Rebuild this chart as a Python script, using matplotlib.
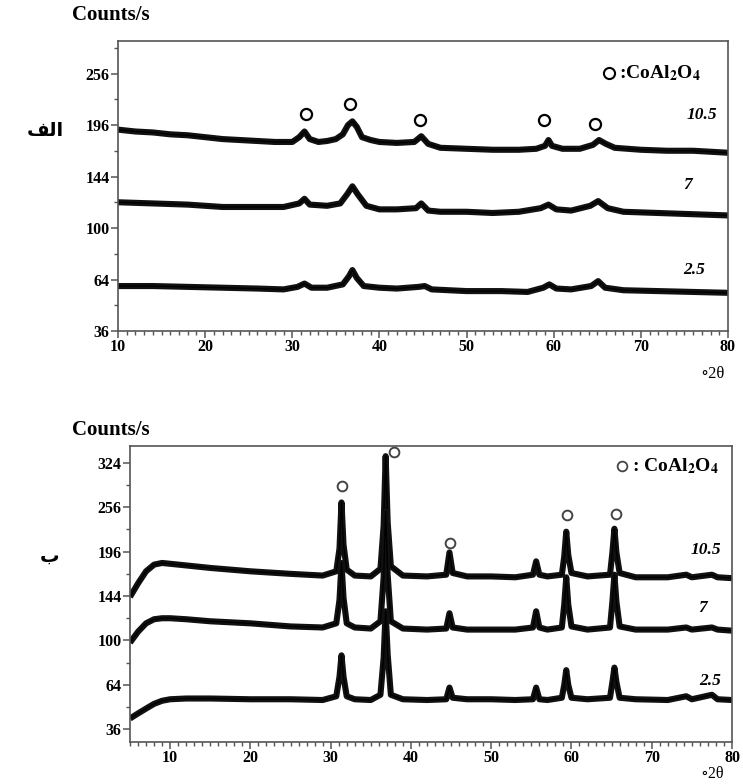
import numpy as np
import matplotlib
matplotlib.use('Agg')
import matplotlib.pyplot as plt
from matplotlib.ticker import FixedLocator, MultipleLocator, NullFormatter

plt.rcParams['font.family'] = ['Liberation Serif', 'DejaVu Serif']
plt.rcParams['mathtext.fontset'] = 'stix'

# ---- panel (a): top ----
top_x_105 = [10, 12, 14, 16, 18, 20, 22, 24, 26, 28, 30, 30.8, 31.4, 32.0, 33, 34, 35, 35.8, 36.4, 36.9,
             37.4, 38.0, 39, 40, 42, 44, 44.8, 45.6, 47, 50, 53, 56, 58, 59.0, 59.4, 59.8, 61, 63, 64.5,
             65.2, 66, 67, 70, 73, 76, 78, 80]
top_y_105 = [191, 189, 188, 186, 185, 183, 181, 180, 179, 178, 178, 183, 189, 181, 178, 179, 181, 186, 196, 200,
             194, 183, 180, 178, 177, 178, 184, 176, 172, 171, 170, 170, 171, 174, 180, 174, 171, 171, 175,
             180, 176, 172, 170, 169, 169, 168, 167]

top_x_7 = [10, 14, 18, 22, 26, 29, 30.8, 31.4, 32.0, 34, 35.5, 36.3, 36.9, 37.5, 38.5, 40, 42, 44.2, 44.8,
           45.6, 47, 50, 53, 56, 58.5, 59.4, 60.3, 62, 64.2, 65.1, 66.2, 68, 72, 76, 80]
top_y_7 = [121, 120, 119, 117, 117, 117, 120, 124, 119, 118, 120, 128, 135, 128, 118, 115, 115, 116, 120,
           114, 113, 113, 112, 113, 116, 119, 115, 114, 118, 122, 116, 113, 112, 111, 110]

top_x_25 = [10, 14, 18, 22, 26, 29, 30.6, 31.4, 32.2, 34, 35.8, 36.5, 36.9, 37.4, 38.2, 40, 42, 44.5, 45.2,
            46, 50, 54, 57, 58.8, 59.5, 60.3, 62, 64.3, 65.1, 65.9, 68, 72, 76, 80]
top_y_25 = [60, 60, 59.5, 59, 58.5, 58, 59.5, 61.5, 59, 59, 61, 66, 70, 65, 60, 59, 58.5, 59.5, 60,
            58, 57, 57, 56.5, 59, 61, 58.5, 58, 60, 63, 59, 57.5, 57, 56.5, 56]

top_circle_x = [31.6, 36.6, 44.6, 58.9, 64.7]
top_circle_y = [208, 220, 201, 201, 197]

# ---- panel (b): bottom ----
bot_x = [5, 6, 7, 8, 9, 10, 12, 15, 20, 25, 29, 30.7, 31.1, 31.35, 31.6, 32.0, 33, 35, 36.2, 36.6, 36.85,
         37.1, 37.5, 39, 42, 44.4, 44.8, 45.2, 47, 50, 53, 55.2, 55.6, 56.0, 57, 58.8, 59.1, 59.35, 59.6,
         60.0, 62, 64.8, 65.1, 65.35, 65.6, 66.0, 68, 72, 74.3, 75, 77.5, 78.2, 80]
bot_y_105 = [143, 158, 172, 180, 182, 181, 179, 176, 172, 169, 167, 172, 200, 263, 205, 174, 167, 166, 175,
             230, 335, 235, 178, 167, 166, 168, 195, 170, 166, 166, 165, 168, 184, 168, 166, 168, 190, 222,
             192, 170, 166, 168, 195, 226, 195, 170, 165, 165, 168, 165, 168, 165, 164]
bot_y_7 = [98, 108, 116, 120, 121, 121, 120, 118, 116, 113, 112, 116, 140, 182, 142, 116, 112, 111, 118,
           165, 250, 168, 118, 111, 110, 111, 126, 112, 110, 110, 110, 112, 128, 112, 110, 112, 135, 165,
           135, 113, 110, 112, 138, 168, 138, 113, 110, 110, 112, 110, 112, 110, 109]
bot_y_25 = [42, 45, 48, 51, 53, 54, 54.5, 54.5, 54, 54, 53.5, 56, 70, 87, 70, 56, 54, 53.5, 57, 85, 128,
            88, 57, 54, 53.5, 54, 62, 55, 54, 54, 53.5, 54, 62, 54, 53.5, 55, 64, 75, 64, 55, 54, 55, 66,
            77, 66, 55, 54, 53.5, 56, 54, 57, 54, 53.5]

bot_circle_x = [31.4, 37.9, 44.9, 59.4, 65.5]
bot_circle_y = [288, 342, 207, 245, 247]

yticks_top = [36, 64, 100, 144, 196, 256]
yticks_bot = [36, 64, 100, 144, 196, 256, 324]
yminor = [49, 81, 121, 169, 225, 289]

W, H = 743, 784
fig = plt.figure(figsize=(W / 100, H / 100), dpi=100)


def fx(px):
    return px / W


def fy(py):
    return 1 - py / H


def style_axis(ax, xmin, ylim, majors):
    ax.set_yscale('function', functions=(lambda v: np.sqrt(np.clip(v, 0, None)), lambda v: np.square(v)))
    ax.set_xlim(xmin, 80)
    ax.set_ylim(*ylim)
    ax.yaxis.set_major_locator(FixedLocator(majors))
    ax.yaxis.set_minor_locator(FixedLocator(yminor))
    ax.yaxis.set_minor_formatter(NullFormatter())
    ax.set_yticklabels([str(v) for v in majors])
    ax.xaxis.set_major_locator(MultipleLocator(10))
    ax.xaxis.set_minor_locator(MultipleLocator(1))
    for s in ax.spines.values():
        s.set_color('#555555')
        s.set_linewidth(1.2)
    ax.tick_params(which='major', direction='out', length=5, width=1.1, color='#555555',
                   labelsize=11.5, pad=1)
    ax.tick_params(which='minor', direction='out', length=3, width=1.0, color='#555555')
    for lab in ax.get_xticklabels() + ax.get_yticklabels():
        lab.set_fontweight('bold')


def draw(ax, xs, ys):
    ax.plot(xs, ys, color='#111111', lw=4.4, solid_joinstyle='round', solid_capstyle='butt')
    ax.plot(xs, ys, color='black', lw=1.0)


ax1 = fig.add_axes([fx(118), fy(331), 610 / W, 290 / H])
draw(ax1, top_x_105, top_y_105)
draw(ax1, top_x_7, top_y_7)
draw(ax1, top_x_25, top_y_25)
ax1.plot(top_circle_x, top_circle_y, 'o', mfc='white', mec='black', ms=8, mew=1.6)
style_axis(ax1, 10, (36, 298), yticks_top)

ax2 = fig.add_axes([fx(130), fy(742), 602 / W, 296 / H])
draw(ax2, bot_x, bot_y_105)
draw(ax2, bot_x, bot_y_7)
draw(ax2, bot_x, bot_y_25)
ax2.plot(bot_circle_x, bot_circle_y, 'o', mfc='white', mec='#444444', ms=7, mew=1.4)
style_axis(ax2, 5, (29.4, 352), yticks_bot)

# sample labels
lab_kw = dict(fontsize=12.5, fontweight='bold', style='italic', ha='center', va='center')
fig.text(fx(702), fy(115), '10.5', **lab_kw)
fig.text(fx(688), fy(185), '7', **lab_kw)
fig.text(fx(694), fy(270), '2.5', **lab_kw)
fig.text(fx(706), fy(550), '10.5', **lab_kw)
fig.text(fx(703), fy(608), '7', **lab_kw)
fig.text(fx(710), fy(681), '2.5', **lab_kw)

fig.text(fx(72), fy(15), 'Counts/s', fontsize=15, fontweight='bold', va='center')
fig.text(fx(72), fy(430), 'Counts/s', fontsize=15, fontweight='bold', va='center')

fig.text(fx(712), fy(374), '\u22182\u03b8', fontsize=12, ha='center', va='center')
fig.text(fx(712), fy(782), '\u22182\u03b8', fontsize=11.5, ha='center', va='bottom')

# legend entries
fig.add_artist(plt.Line2D([fx(609)], [fy(73)], marker='o', mfc='white', mec='black', ms=8, mew=1.5,
                          transform=fig.transFigure))
fig.text(fx(619), fy(73), r':CoAl$_\mathbf{2}$O$_\mathbf{4}$', fontsize=14, fontweight='bold',
         ha='left', va='center')
fig.add_artist(plt.Line2D([fx(622)], [fy(466)], marker='o', mfc='white', mec='#444444', ms=7, mew=1.3,
                          transform=fig.transFigure))
fig.text(fx(632), fy(466), r': CoAl$_\mathbf{2}$O$_\mathbf{4}$', fontsize=14, fontweight='bold',
         ha='left', va='center')

# panel tags (Arabic, shaped presentation forms in visual order)
fig.text(fx(45), fy(131), '\ufed2\ufedf\ufe8d', fontsize=14, fontweight='bold', ha='center', va='center',
         family='DejaVu Sans')
fig.text(fx(50), fy(556), '\u0628', fontsize=14, fontweight='bold', ha='center', va='center',
         family='DejaVu Sans')

fig.savefig('out.png', dpi=100, facecolor='white')
